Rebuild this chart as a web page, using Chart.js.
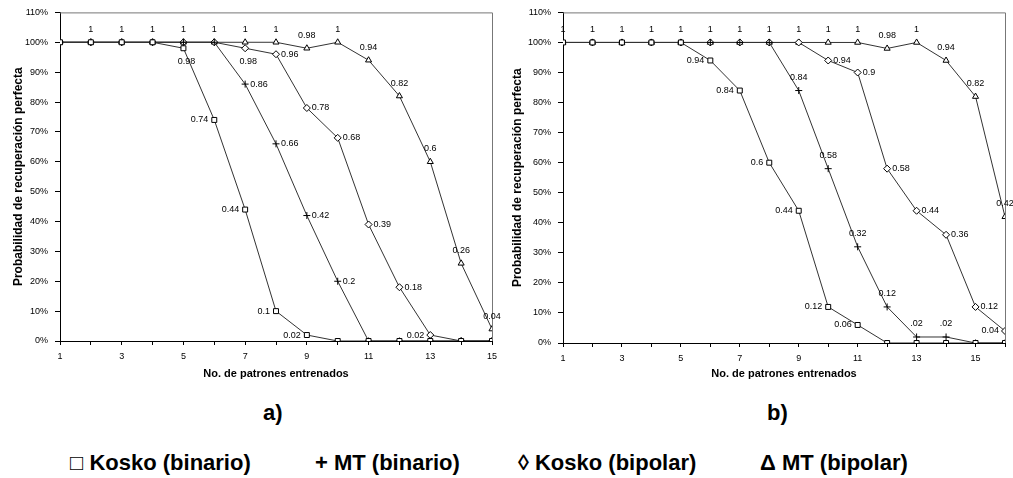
<!DOCTYPE html>
<html>
<head>
<meta charset="utf-8">
<script src="https://cdn.jsdelivr.net/npm/chart.js@4.4.1/dist/chart.umd.min.js"></script>
<style>
  body { margin: 0; background: #fff; width: 1013px; height: 478px; position: relative; overflow: hidden;
         font-family: "Liberation Sans Narrow", "Arial Narrow", "Liberation Sans", Arial, sans-serif; }
  .panel { position: absolute; top: 0; }
  #wrapA { left: 0; }
  #wrapB { left: 505px; }
  .tag { position: absolute; top: 402px; font-size: 22px; font-weight: bold; line-height: 22px; }
  .key { position: absolute; top: 452px; font-size: 22px; font-weight: bold; line-height: 22px; white-space: nowrap; }
</style>
</head>
<body>
<div class="panel" id="wrapA"><canvas id="chartA" width="505" height="392"></canvas></div>
<div class="panel" id="wrapB"><canvas id="chartB" width="508" height="392"></canvas></div>
<div class="tag" style="left:263px">a)</div>
<div class="tag" style="left:767px">b)</div>
<div id="legend"></div>

<script>
// series names and legend symbols
const seriesNames = ["Kosko (binario)", "MT (binario)", "Kosko (bipolar)", "MT (bipolar)"];
const seriesSymbols = ["\u25A1", "+", "\u25CA", "\u0394"];
const xTickLabels = [1, 3, 5, 7, 9, 11, 13, 15];

// panel a) : 1..15 patterns
const xA = [1, 2, 3, 4, 5, 6, 7, 8, 9, 10, 11, 12, 13, 14, 15];
const koskoBinA = [1, 1, 1, 1, 0.98, 0.74, 0.44, 0.1, 0.02, 0, 0, 0, 0, 0, 0];
const mtBinA    = [1, 1, 1, 1, 1, 1, 0.86, 0.66, 0.42, 0.2, 0, 0, 0, 0, 0];
const koskoBipA = [1, 1, 1, 1, 1, 1, 0.98, 0.96, 0.78, 0.68, 0.39, 0.18, 0.02, 0, 0];
const mtBipA    = [1, 1, 1, 1, 1, 1, 1, 1, 0.98, 1, 0.94, 0.82, 0.6, 0.26, 0.04];

const txtKoskoBinA = ["", "", "", "", "0.98", "0.74", "0.44", "0.1", "0.02", "", "", "", "", "", ""];
const txtMtBinA    = ["", "", "", "", "", "", "0.86", "0.66", "0.42", "0.2", "", "", "", "", ""];
const txtKoskoBipA = ["", "", "", "", "", "", "0.98", "0.96", "0.78", "0.68", "0.39", "0.18", "0.02", "", ""];
const txtMtBipA    = ["", "1", "1", "1", "1", "1", "1", "1", "0.98", "1", "0.94", "0.82", "0.6", "0.26", "0.04"];

// panel b) : 1..16 patterns
const xB = [1, 2, 3, 4, 5, 6, 7, 8, 9, 10, 11, 12, 13, 14, 15, 16];
const koskoBinB = [1, 1, 1, 1, 1, 0.94, 0.84, 0.6, 0.44, 0.12, 0.06, 0, 0, 0, 0, 0];
const mtBinB    = [1, 1, 1, 1, 1, 1, 1, 1, 0.84, 0.58, 0.32, 0.12, 0.02, 0.02, 0, 0];
const koskoBipB = [1, 1, 1, 1, 1, 1, 1, 1, 1, 0.94, 0.9, 0.58, 0.44, 0.36, 0.12, 0.04];
const mtBipB    = [1, 1, 1, 1, 1, 1, 1, 1, 1, 1, 1, 0.98, 1, 0.94, 0.82, 0.42];

const txtKoskoBinB = ["", "", "", "", "", "0.94", "0.84", "0.6", "0.44", "0.12", "0.06", "", "", "", "", ""];
const txtMtBinB    = ["", "", "", "", "", "", "", "", "0.84", "0.58", "0.32", "0.12", ".02", ".02", "", ""];
const txtKoskoBipB = ["", "", "", "", "", "", "", "", "", "0.94", "0.9", "0.58", "0.44", "0.36", "0.12", "0.04"];
const txtMtBipB    = ["1", "1", "1", "1", "1", "1", "1", "1", "1", "1", "1", "0.98", "1", "0.94", "0.82", "0.42"];

const markerStyles = ["rect", "cross", "rectRot", "triangle"];
const legendLeft = [70, 315, 518, 760];

// legend below both panels
const legendBox = document.getElementById("legend");
seriesNames.forEach(function (name, k) {
  const d = document.createElement("div");
  d.className = "key";
  d.style.left = legendLeft[k] + "px";
  d.textContent = seriesSymbols[k] + " " + name;
  legendBox.appendChild(d);
});

// draws the value next to each point
const pointLabels = {
  id: "pointLabels",
  afterDatasetsDraw(chart) {
    const ctx = chart.ctx;
    ctx.save();
    ctx.font = "9px 'Liberation Sans', Arial, sans-serif";
    ctx.fillStyle = "#000";
    ctx.textBaseline = "middle";
    chart.data.datasets.forEach(function (ds, i) {
      const meta = chart.getDatasetMeta(i);
      meta.data.forEach(function (pt, j) {
        const txt = ds.pointText[j];
        if (!txt) return;
        const pos = (ds.posOverride && ds.posOverride[j]) || ds.posDefault;
        let x = pt.x, y = pt.y;
        if (pos === "a") { ctx.textAlign = "center"; y -= 13; }
        else if (pos === "b") { ctx.textAlign = "center"; x += 3; y += 13; }
        else if (pos === "l") { ctx.textAlign = "right"; x -= 6; }
        else { ctx.textAlign = "left"; x += 5; }
        ctx.fillText(txt, x, y);
      });
    });
    ctx.restore();
  }
};

// top and right edges of the plot box
const frame = {
  id: "frame",
  beforeDatasetsDraw(chart) {
    const a = chart.chartArea;
    const ctx = chart.ctx;
    ctx.save();
    ctx.strokeStyle = "#777";
    ctx.lineWidth = 1;
    ctx.beginPath();
    ctx.moveTo(a.left, a.top + 0.5);
    ctx.lineTo(a.right + 0.5, a.top + 0.5);
    ctx.lineTo(a.right + 0.5, a.bottom);
    ctx.stroke();
    ctx.restore();
  }
};

function buildChart(id, xs, series, cfg) {
  return new Chart(document.getElementById(id), {
    type: "line",
    data: {
      datasets: series.map(function (s, k) {
        return {
          label: seriesNames[k],
          data: xs.map(function (x, i) { return { x: x, y: s.values[i] }; }),
          pointText: s.text,
          posDefault: s.pos,
          posOverride: s.override,
          borderColor: "#333",
          borderWidth: 1,
          tension: 0,
          fill: false,
          pointStyle: markerStyles[k],
          pointRadius: 3.5,
          pointBorderWidth: 1,
          pointBorderColor: "#000",
          pointBackgroundColor: "#fff"
        };
      })
    },
    options: {
      responsive: false,
      animation: false,
      devicePixelRatio: 1,
      layout: { padding: { left: 0, top: 10, right: cfg.padRight, bottom: 0 } },
      plugins: { legend: { display: false }, tooltip: { enabled: false } },
      scales: {
        x: {
          type: "linear",
          min: 1,
          max: cfg.maxX,
          afterFit: function (s) { s.height = cfg.xHeight; },
          ticks: {
            stepSize: 1,
            autoSkip: false,
            maxRotation: 0,
            color: "#000",
            padding: 6,
            font: { size: 9, family: "'Liberation Sans', Arial, sans-serif" },
            callback: function (v) { return xTickLabels.indexOf(v) >= 0 ? String(v) : ""; }
          },
          grid: { drawOnChartArea: false, drawTicks: true, tickLength: 4, color: "#000" },
          border: { color: "#000", width: 1 },
          title: {
            display: true,
            text: "No. de patrones entrenados",
            color: "#000",
            font: { size: 11, weight: "bold", family: "'Liberation Sans', Arial, sans-serif" },
            padding: { top: 0, bottom: 11 }
          }
        },
        y: {
          min: 0,
          max: 1.1,
          afterFit: function (s) { s.width = cfg.yWidth; },
          ticks: {
            stepSize: 0.1,
            color: "#000",
            padding: 7,
            font: { size: 9, family: "'Liberation Sans', Arial, sans-serif" },
            callback: function (v) { return Math.round(v * 100) + "%"; }
          },
          grid: { drawOnChartArea: false, drawTicks: true, tickLength: 5, color: "#000" },
          border: { color: "#000", width: 1 },
          title: {
            display: true,
            text: "Probabilidad de recuperaci\u00f3n perfecta",
            color: "#000",
            font: { size: 12, weight: "bold", family: "'Liberation Sans', Arial, sans-serif" },
            padding: { top: cfg.yTitlePad, bottom: 0 }
          }
        }
      }
    },
    plugins: [frame, pointLabels]
  });
}

buildChart("chartA", xA, [
  { values: koskoBinA, text: txtKoskoBinA, pos: "l", override: { 4: "b" } },
  { values: mtBinA, text: txtMtBinA, pos: "r" },
  { values: koskoBipA, text: txtKoskoBipA, pos: "r", override: { 6: "b", 12: "l" } },
  { values: mtBipA, text: txtMtBipA, pos: "a" }
], { maxX: 15, padRight: 13, xHeight: 51, yWidth: 60, yTitlePad: 11 });

buildChart("chartB", xB, [
  { values: koskoBinB, text: txtKoskoBinB, pos: "l" },
  { values: mtBinB, text: txtMtBinB, pos: "a" },
  { values: koskoBipB, text: txtKoskoBipB, pos: "r", override: { 15: "l" } },
  { values: mtBipB, text: txtMtBipB, pos: "a" }
], { maxX: 16, padRight: 8, xHeight: 49, yWidth: 58, yTitlePad: 5 });
</script>
</body>
</html>
